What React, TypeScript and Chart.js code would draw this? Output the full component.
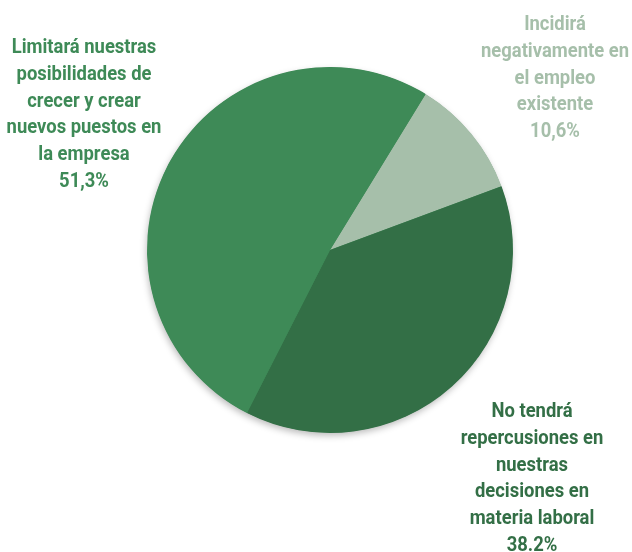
import React, { useEffect, useRef } from "react";
import { Chart, registerables } from "chart.js";

Chart.register(...registerables);

const categories = [
  "Incidirá negativamente en el empleo existente",
  "No tendrá repercusiones en nuestras decisiones en materia laboral",
  "Limitará nuestras posibilidades de crecer y crear nuevos puestos en la empresa",
];
const values = [10.6, 38.2, 51.3];
const valueLabels = ["10,6%", "38.2%", "51,3%"];
const labelLines = [
  ["Incidirá", "negativamente en", "el empleo", "existente"],
  ["No tendrá", "repercusiones en", "nuestras", "decisiones en", "materia laboral"],
  ["Limitará nuestras", "posibilidades de", "crecer y crear", "nuevos puestos en", "la empresa"],
];
const colors = ["#a6bfaa", "#336f46", "#3e8a57"];
const textColors = ["#a6bfaa", "#336f46", "#3e8a57"];
// label block anchors (center x, first line center y)
const labelAnchors = [
  { x: 555, y: 25 },
  { x: 532, y: 412 },
  { x: 84, y: 48 },
];

const FONT = "Roboto, 'Liberation Sans', sans-serif";

const shadowPlugin = {
  id: "pieShadow",
  beforeDatasetsDraw(chart: any) {
    const meta = chart.getDatasetMeta(0);
    const arc = meta.data[0];
    if (!arc) return;
    const { x, y, outerRadius } = arc.getProps(["x", "y", "outerRadius"], true);
    const ctx = chart.ctx;
    ctx.save();
    ctx.beginPath();
    ctx.arc(x, y, outerRadius - 0.5, 0, Math.PI * 2);
    ctx.fillStyle = "#3e8a57";
    ctx.shadowColor = "rgba(0,0,0,0.28)";
    ctx.shadowBlur = 7;
    ctx.shadowOffsetX = -1;
    ctx.shadowOffsetY = 3;
    ctx.fill();
    ctx.restore();
  },
};

const labelPlugin = {
  id: "sliceLabels",
  afterDraw(chart: any) {
    const ctx = chart.ctx;
    ctx.save();
    ctx.font = `bold 20px ${FONT}`;
    ctx.textAlign = "center";
    ctx.textBaseline = "middle";
    const ref = ctx.measureText("negativamente en").width;
    const sx = 148 / ref;
    const lh = 26.8;
    labelLines.forEach((lines, i) => {
      ctx.fillStyle = textColors[i];
      const all = [...lines, valueLabels[i]];
      all.forEach((t, j) => {
        ctx.save();
        ctx.translate(labelAnchors[i].x, labelAnchors[i].y + j * lh);
        ctx.scale(sx, 1);
        ctx.fillText(t, 0, 0);
        ctx.restore();
      });
    });
    ctx.restore();
  },
};

export default function App() {
  const ref = useRef<HTMLCanvasElement | null>(null);
  useEffect(() => {
    if (!ref.current) return;
    const chart = new Chart(ref.current, {
      type: "pie",
      data: {
        labels: categories,
        datasets: [
          {
            data: values,
            backgroundColor: colors,
            borderWidth: 0,
          },
        ],
      },
      options: {
        responsive: false,
        animation: false,
        rotation: 31.5,
        layout: { padding: { left: 147, right: 119, top: 67, bottom: 119 } },
        plugins: {
          legend: { display: false },
          tooltip: { enabled: false },
        },
      },
      plugins: [shadowPlugin, labelPlugin],
    });
    return () => chart.destroy();
  }, []);
  return (
    <div style={{ position: "fixed", left: 0, top: 0, width: 632, height: 552, background: "#fff" }}>
      <canvas ref={ref} width={632} height={552} style={{ width: 632, height: 552 }} />
    </div>
  );
}
